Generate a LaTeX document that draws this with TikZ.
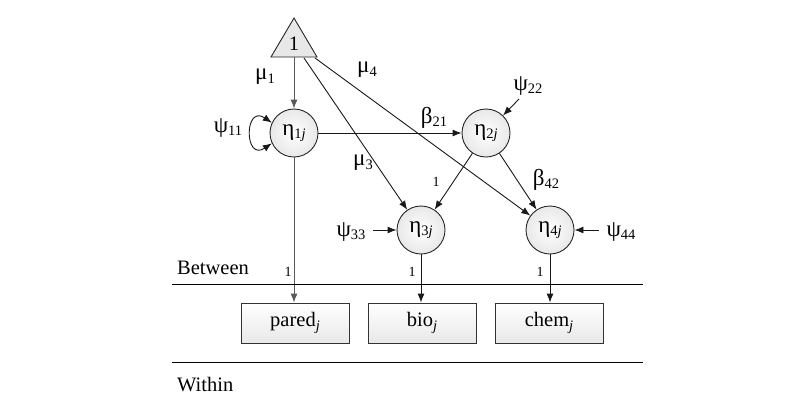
\documentclass[tikz,border=0pt]{standalone}
\usepackage{fontspec}
\setmainfont{Liberation Serif}
\usetikzlibrary{arrows.meta}
\newcommand\sbx[1]{\raisebox{-0.35ex}{\fontsize{14.5}{15}\selectfont #1}}
\newcommand\gk[1]{{\fontsize{23}{24}\selectfont #1}}
\begin{document}
\begin{tikzpicture}[x=1pt,y=-1pt,
  font=\fontsize{20.5}{22}\selectfont,
  arr/.style={draw=black!90, line width=0.9pt, -{Latex[length=9pt,width=7pt]}},
  latent/.style={circle, draw=black!85, line width=0.9pt, minimum size=48pt, inner sep=0pt, inner color=white, outer color=gray!18},
  obs/.style={rectangle, draw=black!80, line width=0.9pt, minimum width=108pt, minimum height=40pt, top color=white, bottom color=gray!18},
  lab/.style={inner sep=1pt},
  small/.style={font=\fontsize{14}{15}\selectfont, inner sep=1pt}]
\useasboundingbox (0,0) rectangle (800,418);
% triangle
\draw[draw=black!85, line width=0.9pt, fill=gray!18] (294,18) -- (317,57) -- (271,57) -- cycle;
\node[lab] (one) at (294,44) {1};
\coordinate (tA) at (294,57);
\coordinate (tB) at (304,58);
\coordinate (tC) at (315,58);
% latent
\node[latent] (e1) at (294,133) {\gk{η}\sbx{1\textit{j}}};
\node[latent] (e2) at (486,133) {\gk{η}\sbx{2\textit{j}}};
\node[latent] (e3) at (421,230) {\gk{η}\sbx{3\textit{j}}};
\node[latent] (e4) at (550,230) {\gk{η}\sbx{4\textit{j}}};
% observed
\node[obs] (pared) at (295,323) {pared\sbx{\textit{j}}};
\node[obs] (bio) at (422,323) {bio\sbx{\textit{j}}};
\node[obs] (chem) at (549,323) {chem\sbx{\textit{j}}};
% paths
\draw[arr, draw=black!65] (tA) -- (e1);
\draw[arr] (tB) -- (e3);
\draw[arr] (tC) -- (e4);
\draw[arr] (e1) -- (e2);
\draw[arr] (e2) -- (e3);
\draw[arr] (e2) -- (e4);
\draw[arr, draw=black!65] (e1) -- (pared.north -| e1);
\draw[arr] (e3) -- (bio.north -| e3);
\draw[arr] (e4) -- (chem.north -| e4);
% self loop
\draw[draw=black!90, line width=0.9pt, {Latex[length=9pt,width=7pt]}-{Latex[length=9pt,width=7pt]}] (e1.155) .. controls (244,104) and (244,162) .. (e1.205);
% residual arrows
\coordinate (p22s) at (519,99);
\draw[arr] (p22s) -- (e2);
\node[lab] (p33) at (351,232) {\gk{ψ}\sbx{33}};
\node[lab] (p44) at (621,232) {\gk{ψ}\sbx{44}};
\coordinate (p33s) at (373,230);
\coordinate (p44s) at (599,230);
\draw[arr] (p33s) -- (e3);
\draw[arr] (p44s) -- (e4);
% labels
\node[lab] at (265,77) {\gk{μ}\sbx{1}};
\node[lab] at (367,70) {\gk{μ}\sbx{4}};
\node[lab] at (363,163) {\gk{μ}\sbx{3}};
\node[lab] at (434,118) {\gk{β}\sbx{21}};
\node[lab] at (546,180) {\gk{β}\sbx{42}};
\node[lab] at (528,86) {\gk{ψ}\sbx{22}};
\node[lab] at (228,128) {\gk{ψ}\sbx{11}};
\node[small] at (436,182) {1};
\node[small] at (288,272) {1};
\node[small] at (412,272) {1};
\node[small] at (540,272) {1};
% level lines
\coordinate (l1a) at (172,284);
\coordinate (l1b) at (643,284);
\coordinate (l2a) at (172,362);
\coordinate (l2b) at (643,362);
\draw[line width=1pt] (l1a) -- (l1b);
\draw[line width=1pt] (l2a) -- (l2b);
\node[lab, anchor=west] at (176,268) {Between};
\node[lab, anchor=west] at (176,385) {Within};
\end{tikzpicture}
\end{document}
